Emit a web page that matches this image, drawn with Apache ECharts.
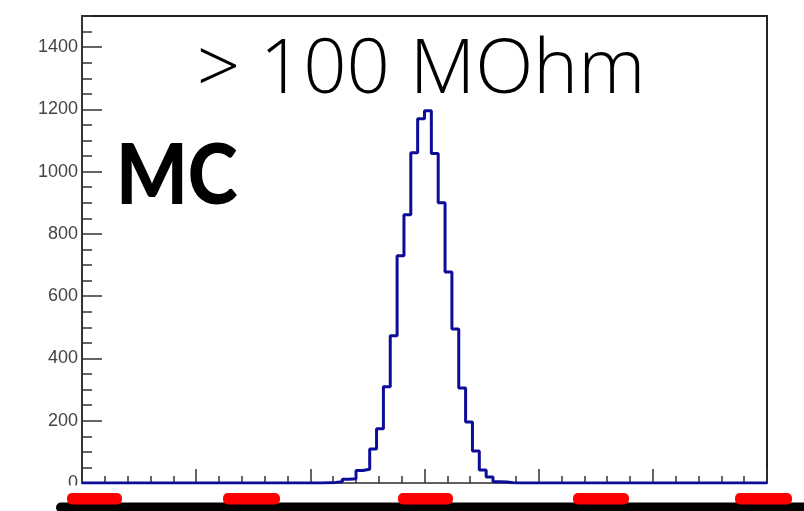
<!DOCTYPE html>
<html>
<head>
<meta charset="utf-8">
<script src="https://cdn.jsdelivr.net/npm/echarts@6/dist/echarts.min.js"></script>
<style>html,body{margin:0;padding:0;background:#fff;}#c{width:804px;height:511px;}</style>
</head>
<body>
<div id="c"></div>
<script>
// Histogram: 100 bins over x range [0, 30]
const xMin = 0;
const xMax = 30;
const nBins = 100;
const counts = [
  0,0,0,0,0,0,0,0,0,0,
  0,0,0,0,0,0,0,0,0,0,
  0,0,0,0,0,0,0,0,0,0,
  0,0,0,0,0,1,2,4,12,14,
  40,44,109,174,309,473,730,862,1061,1170,
  1196,1058,900,678,495,305,196,103,42,19,
  4,3,1,0,0,0,0,0,0,0,
  0,0,0,0,0,0,0,0,0,0,
  0,0,0,0,0,0,0,0,0,0,
  0,0,0,0,0,0,0,0,0,0
];
const yTicks = [0, 200, 400, 600, 800, 1000, 1200, 1400];
const titleText = '> 100 MOhm';
const tagText = 'MC';

const binW = (xMax - xMin) / nBins;
const stepData = counts.map((c, i) => [xMin + i * binW, c]);
stepData.push([xMax, 0]);

const chart = echarts.init(document.getElementById('c'), null, {renderer: 'canvas'});
const option = {
  animation: false,
  backgroundColor: '#fff',
  grid: {left: 82, right: 37, top: 16, bottom: 28, show: true, borderColor: '#222', borderWidth: 2, backgroundColor: 'transparent'},
  title: {
    text: titleText, left: 416, top: 28, textAlign: 'center',
    textStyle: {fontFamily: 'Open Sans', fontWeight: 300, fontSize: 76, color: '#000'}
  },
  graphic: [
    {type: 'text', x: 116, y: 136, scaleX: 0.91, style: {text: tagText, font: '900 83px Lato', fill: '#000'}},
    {type: 'rect', shape: {x: 0, y: 485.5, width: 804, height: 26}, style: {fill: '#fff'}, z: 100},
    {type: 'rect', shape: {x: 56, y: 502.5, width: 760, height: 10, r: 5}, style: {fill: '#000'}, z: 101},
    {type: 'rect', shape: {x: 67, y: 493, width: 55, height: 11.5, r: 5}, style: {fill: '#ff0000'}, z: 102},
    {type: 'rect', shape: {x: 223, y: 493, width: 57, height: 11.5, r: 5}, style: {fill: '#ff0000'}, z: 102},
    {type: 'rect', shape: {x: 398, y: 493, width: 55, height: 11.5, r: 5}, style: {fill: '#ff0000'}, z: 102},
    {type: 'rect', shape: {x: 573, y: 493, width: 56, height: 11.5, r: 5}, style: {fill: '#ff0000'}, z: 102},
    {type: 'rect', shape: {x: 735, y: 493, width: 57, height: 11.5, r: 5}, style: {fill: '#ff0000'}, z: 102}
  ],
  xAxis: [
    {type: 'value', position: 'bottom', min: xMin, max: xMax, interval: 5,
      axisLine: {show: true, lineStyle: {color: '#777', width: 1.5}},
      axisTick: {show: true, inside: true, length: 14, lineStyle: {color: '#333', width: 1.5}},
      axisLabel: {show: false}, splitLine: {show: false}},
    {type: 'value', position: 'bottom', min: xMin, max: xMax, interval: 1,
      axisLine: {show: false},
      axisTick: {show: true, inside: true, length: 7, lineStyle: {color: '#333', width: 1.5}},
      axisLabel: {show: false}, splitLine: {show: false}}
  ],
  yAxis: [
    {type: 'value', position: 'left', min: 0, max: 1500, interval: 200,
      axisLine: {show: true, lineStyle: {color: '#333', width: 2}},
      axisTick: {show: true, inside: true, length: 20, lineStyle: {color: '#333', width: 1.5}},
      axisLabel: {show: true, margin: 4, color: '#444', fontFamily: 'Liberation Sans', fontSize: 18,
        showMaxLabel: false,
        formatter: v => yTicks.indexOf(v) >= 0 ? String(v) : ''},
      splitLine: {show: false}},
    {type: 'value', position: 'left', min: 0, max: 1500, interval: 50,
      axisLine: {show: false},
      axisTick: {show: true, inside: true, length: 10, lineStyle: {color: '#333', width: 1.5}},
      axisLabel: {show: false}, splitLine: {show: false}}
  ],
  series: [{
    type: 'line', xAxisIndex: 0, yAxisIndex: 0, step: 'end', symbol: 'none',
    data: stepData,
    lineStyle: {color: '#0c0c98', width: 3},
    z: 5
  }]
};
chart.setOption(option);
</script>
</body>
</html>
